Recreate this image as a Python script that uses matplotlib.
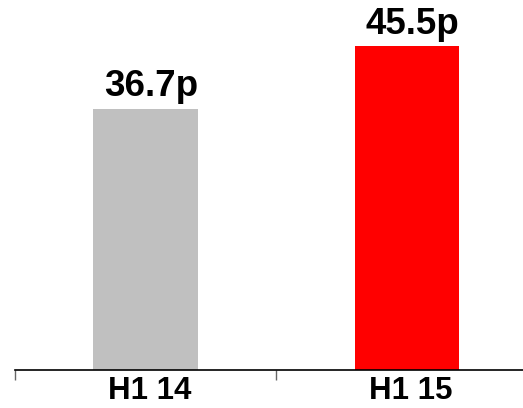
import matplotlib.pyplot as plt
from matplotlib.ticker import FixedLocator

periods = ["H1 14", "H1 15"]
dividends = [36.7, 45.5]  # pence per share
bar_colors = ["#c0c0c0", "#ff0000"]

plt.rcParams["font.family"] = ["Liberation Sans", "DejaVu Sans"]

fig = plt.figure(figsize=(5.23, 4.08), dpi=100)
ax = fig.add_axes([15 / 523, 38 / 408, 522.5 / 523, 333 / 408])

x = list(range(len(periods)))
bars = ax.bar(x, dividends, width=0.40, color=bar_colors)

for rect, val in zip(bars, dividends):
    ax.annotate(f"{val}p", (rect.get_x() + rect.get_width() / 2, val),
                xytext=(4, 9), textcoords="offset points",
                ha="center", va="baseline", fontsize=26.5, fontweight="bold")

ax.set_xlim(-0.5, 1.5)
ax.set_ylim(0, 46.8)
ax.set_xticks([i + 0.015 for i in x])
ax.set_xticklabels(periods, fontsize=22.5, fontweight="bold")
ax.xaxis.set_minor_locator(FixedLocator([-0.5, 0.5, 1.5]))
ax.tick_params(axis="x", which="major", length=0, pad=4)
ax.tick_params(axis="x", which="minor", length=7, width=1, color="#666666")
ax.set_yticks([])

for side in ["top", "right", "left"]:
    ax.spines[side].set_visible(False)
ax.spines["bottom"].set_linewidth(1.2)

plt.savefig("out.png", dpi=100)
